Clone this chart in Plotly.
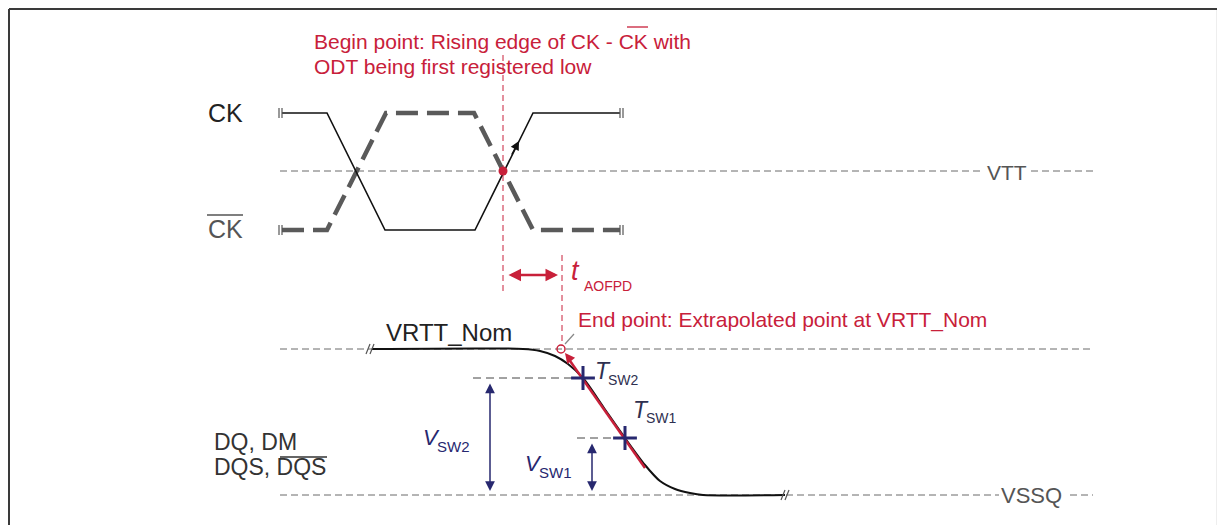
import plotly.graph_objects as go

# ---------------- data (diagram coordinates, pixel-like units) ----------------
ck_x = [282, 327, 385, 475, 533, 620]
ck_y = [113, 113, 230, 230, 113, 113]
ckb_x = [282, 327, 386, 474, 533, 620]
ckb_y = [230, 230, 113, 113, 230, 230]

dq_x = [372, 523, 540, 555, 568, 583, 604, 625, 645, 660, 675, 690, 703, 785]
dq_y = [349, 349, 351, 356, 364, 378, 408, 438, 465, 481, 489, 493, 495, 495]

vtt_y = 171
vrtt_y = 349
vssq_y = 495
tsw2 = (583, 378)
tsw1 = (625, 438)
begin_x = 503
end_x = 562

RED = "#c8203a"
NAVY = "#27286f"
GRAY = "#6a6a6a"
FONT = "Liberation Sans, Arial, sans-serif"

fig = go.Figure()

def seg(xs, ys, color=GRAY, width=1, dash="7px,4px"):
    fig.add_trace(go.Scatter(x=xs, y=ys, mode="lines",
                             line=dict(color=color, width=width, dash=dash),
                             hoverinfo="skip", showlegend=False, cliponaxis=False))

# reference levels
seg([280, 984], [vtt_y, vtt_y])
seg([1031, 1093], [vtt_y, vtt_y])
seg([280, 1093], [vrtt_y, vrtt_y])
seg([280, 999], [vssq_y, vssq_y])
seg([1070, 1093], [vssq_y, vssq_y])
seg([473, tsw2[0]], [tsw2[1], tsw2[1]], color="#444", dash="8px,5px")
seg([577, tsw1[0]], [tsw1[1], tsw1[1]], color="#444", dash="8px,5px")

# red timing markers
seg([begin_x, begin_x], [55, 292], color=RED, width=1, dash="6px,4px")
seg([end_x, end_x], [255, 346], color=RED, width=1, dash="6px,4px")

# clocks
seg(ckb_x, ckb_y, color="#5a5a5a", width=4.5, dash="22px,9px")
seg(ck_x, ck_y, color="#111", width=1.6, dash="solid")

# break marks on clocks
for bx in (279, 282, 620, 623):
    for by in (ck_y[0], ckb_y[0]):
        seg([bx, bx], [by - 5, by + 5], color="#555", width=1.2, dash="solid")

# DQ signal
fig.add_trace(go.Scatter(x=dq_x, y=dq_y, mode="lines",
                         line=dict(color="#111", width=2, shape="spline", smoothing=0.8),
                         hoverinfo="skip", showlegend=False))
# signal break marks
for bx in (368, 372, 783, 787):
    lvl = vrtt_y if bx < 500 else vssq_y
    seg([bx - 2, bx + 2], [lvl + 5, lvl - 5], color="#555", width=1.2, dash="solid")

# red extrapolation line
seg([568, 645], [358, 468], color=RED, width=2.5, dash="solid")

# markers
fig.add_trace(go.Scatter(x=[begin_x], y=[vtt_y], mode="markers",
                         marker=dict(color=RED, size=9), hoverinfo="skip", showlegend=False))
fig.add_trace(go.Scatter(x=[end_x - 1], y=[vrtt_y], mode="markers",
                         marker=dict(color="rgba(0,0,0,0)", size=8, line=dict(color=RED, width=1.5)),
                         hoverinfo="skip", showlegend=False))
fig.add_trace(go.Scatter(x=[tsw2[0], tsw1[0]], y=[tsw2[1], tsw1[1]], mode="markers",
                         marker=dict(symbol="cross-thin", size=17, line=dict(color=NAVY, width=3)),
                         hoverinfo="skip", showlegend=False))
# leader line from end point
seg([565, 574], [344, 334], color="#888", width=1.2, dash="solid")

# frame
seg([9, 1218], [9, 9], color="#3a3a3a", width=2, dash="solid")
seg([9, 9], [9, 525], color="#3a3a3a", width=2, dash="solid")
seg([1217, 1217], [10, 525], color="#eeeeee", width=2, dash="solid")

# arrows
def arrow(x0, y0, x1, y1, color, width, both=True, head=2, size=1):
    fig.add_annotation(x=x1, y=y1, ax=x0, ay=y0, xref="x", yref="y", axref="x", ayref="y",
                       text="", showarrow=True, arrowhead=head, arrowsize=size,
                       arrowwidth=width, arrowcolor=color,
                       arrowside="end+start" if both else "end")

arrow(507, 275, 558, 275, RED, 2.5, both=True, head=2, size=1)
arrow(490, 382, 490, 491, NAVY, 1.5, both=True, head=2, size=1.3)
arrow(592, 442, 592, 491, NAVY, 1.5, both=True, head=2, size=1.3)
arrow(511, 156, 519, 141, "#111", 1.5, both=False, head=2, size=1.2)
arrow(572, 362, 565, 353, RED, 2, both=False, head=2, size=1)

# text
def label(x, y, text, color="#222", size=18, anchor="left"):
    fig.add_annotation(x=x, y=y, xref="x", yref="y", text=text, showarrow=False,
                       xanchor=anchor, yanchor="middle",
                       font=dict(family=FONT, size=size, color=color))

RS = 21
label(312, 41, "Begin point: Rising edge of CK - CK with", RED, RS)
label(312, 66, "ODT being first registered low", RED, RS)
label(206, 113, "CK", "#222", 25)
label(206, 229, "CK", "#555", 25)
label(985, 172, "VTT", "#555", 21)
label(999, 495, "VSSQ", "#555", 22)
label(384, 332, "VRTT_Nom", "#222", 24)
label(576, 320, "End point: Extrapolated point at VRTT_Nom", RED, RS)
label(212, 442, "DQ, DM", "#333", 23)
label(212, 467, "DQS, DQS", "#333", 23)

# symbols with subscripts (main letter + subscript placed separately)
label(569, 271, "<i>t</i>", RED, 27)
label(582, 286, "AOFPD", RED, 14)
label(593, 371, "<i>T</i>", "#2e3050", 23)
label(606, 380, "SW2", "#2e3050", 14)
label(631, 410, "<i>T</i>", "#2e3050", 23)
label(644, 418, "SW1", "#2e3050", 14)
label(421, 437, "<i>V</i>", NAVY, 22)
label(435, 446, "SW2", NAVY, 15)
label(523, 463, "<i>V</i>", NAVY, 22)
label(537, 472, "SW1", NAVY, 15)

# overlines
ov0 = 312 + 270 * RS / 18
seg([ov0, ov0 + 18 * RS / 18], [27, 27], color=RED, width=1.3, dash="solid")
seg([207, 243], [215, 215], color="#555", width=1.5, dash="solid")
seg([280, 327], [457, 457], color="#333", width=1.5, dash="solid")

fig.update_layout(width=1217, height=517, margin=dict(l=0, r=0, t=0, b=0),
                  paper_bgcolor="white", plot_bgcolor="white", showlegend=False,
                  xaxis=dict(range=[8, 1225], visible=False, fixedrange=True),
                  yaxis=dict(range=[525, 8], visible=False, fixedrange=True))

fig.write_html("out.html")
